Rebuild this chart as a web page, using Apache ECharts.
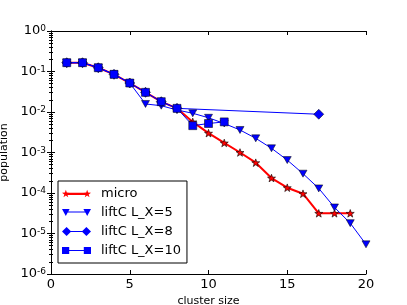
<!DOCTYPE html>
<html><head><meta charset="utf-8">
<script src="https://cdn.jsdelivr.net/npm/echarts@6/dist/echarts.min.js"></script>
<style>html,body{margin:0;padding:0;background:#fff}#c{width:407px;height:305px}</style>
</head><body><div id="c"></div>
<script>
// ---- data ----
const microX = [1,2,3,4,5,6,7,8,9,10,11,12,13,14,15,16,17,18,19];
const microY = [0.165,0.165,0.124,0.085,0.052,0.0306,0.018,0.0123,0.0057,0.0030,0.00172,0.00100,0.00056,0.000234,0.000135,0.000096,3.15e-5,3.15e-5,3.15e-5];
const lx5X = [1,2,3,4,5,6,7,8,9,10,11,12,13,14,15,16,17,18,19,20];
const lx5Y = [0.165,0.165,0.124,0.085,0.052,0.0158,0.0143,0.0112,0.0093,0.0072,0.0052,0.0036,0.00224,0.00127,0.00065,0.00030,0.00013,4.4e-5,1.8e-5,5.4e-6];
const lx8X = [1,2,3,4,5,6,7,8,17];
const lx8Y = [0.165,0.165,0.124,0.085,0.052,0.0306,0.018,0.0123,0.0088];
const lx10X = [1,2,3,4,5,6,7,8,9,10,11];
const lx10Y = [0.165,0.165,0.124,0.085,0.052,0.0306,0.018,0.0123,0.0046,0.0052,0.0057];
const seriesNames = ['micro','liftC L_X=5','liftC L_X=8','liftC L_X=10'];
const xTicks = {min:0, max:20, interval:5};
const yRange = {min:1e-6, max:1};

const FONT = 'DejaVu Sans';
function pairs(xs, ys){ return xs.map((x,i)=>[x, ys[i]]); }

// ---- marker shapes ----
function starPath(cx, cy, R, r){
  let d = '';
  for (let i=0;i<10;i++){
    const a = -Math.PI/2 + i*Math.PI/5;
    const rad = i%2===0 ? R : r;
    d += (i===0?'M':'L') + (cx+rad*Math.cos(a)).toFixed(1) + ' ' + (cy+rad*Math.sin(a)).toFixed(1) + ' ';
  }
  return d + 'Z ';
}
function triPath(cx, cy, r){ return `M${cx-r} ${cy-r*0.8} L${cx+r} ${cy-r*0.8} L${cx} ${cy+r} Z `; }
function diaPath(cx, cy, r){ return `M${cx} ${cy-r} L${cx+r} ${cy} L${cx} ${cy+r} L${cx-r} ${cy} Z `; }
function sqPath(cx, cy, h){ return `M${cx-h} ${cy-h} L${cx+h} ${cy-h} L${cx+h} ${cy+h} L${cx-h} ${cy+h} Z `; }
function rectPath(x1, x2, cy, h){ return `M${x1} ${cy-h} L${x2} ${cy-h} L${x2} ${cy+h} L${x1} ${cy+h} Z `; }

const W = 290, CY = 50;
function legendIcon(kind){
  let d = '';
  if (kind==='star'){ const R=40; d = starPath(R,CY,R,16)+rectPath(R,W-R,CY,10)+starPath(W-R,CY,R,16); }
  if (kind==='tri'){ const r=38; d = triPath(r,CY,r)+rectPath(r,W-r,CY,5)+triPath(W-r,CY,r); }
  if (kind==='dia'){ const r=46; d = diaPath(r,CY,r)+rectPath(r,W-r,CY,5)+diaPath(W-r,CY,r); }
  if (kind==='sq'){ const r=36; d = sqPath(r,CY,r)+rectPath(r,W-r,CY,5)+sqPath(W-r,CY,r); }
  return 'path://' + d;
}
const starSymbol = 'path://' + starPath(50,50,50,20);

const chart = echarts.init(document.getElementById('c'), null, {renderer:'canvas'});

function yLabel(v){
  const e = Math.round(Math.log10(v));
  return '{a|10}{b|' + e + '}';
}
const axisLineStyle = {show:true, lineStyle:{color:'#000', width:1}};
const tickStyle = {show:true, inside:true, length:4, lineStyle:{color:'#000', width:1}};
const minorStyle = {show:true, splitNumber:9, length:2, lineStyle:{color:'#000', width:1}};

const blueEdge = {borderColor:'#000', borderWidth:0.5};

chart.setOption({
  animation:false,
  backgroundColor:'#fff',
  textStyle:{fontFamily:FONT},
  grid:{left:51, right:41, top:31, bottom:31, containLabel:false, outerBoundsMode:'none'},
  xAxis:[
    {type:'value', min:xTicks.min, max:xTicks.max, interval:xTicks.interval, position:'bottom',
     axisLine:axisLineStyle, axisTick:tickStyle, splitLine:{show:false},
     axisLabel:{fontSize:13, color:'#000', margin:4, fontFamily:FONT},
     name:'cluster size', nameLocation:'middle', nameGap:14,
     nameTextStyle:{fontSize:11, color:'#000', fontFamily:FONT}},
    {type:'value', min:xTicks.min, max:xTicks.max, interval:xTicks.interval, position:'top',
     axisLine:axisLineStyle, axisTick:tickStyle, splitLine:{show:false}, axisLabel:{show:false}}
  ],
  yAxis:[
    {type:'log', logBase:10, min:yRange.min, max:yRange.max, splitNumber:6, position:'left',
     axisLine:axisLineStyle, axisTick:tickStyle, minorTick:minorStyle, splitLine:{show:false},
     axisLabel:{formatter:yLabel, margin:5, color:'#000',
       rich:{a:{fontSize:13, lineHeight:13, fontFamily:FONT, color:'#000', verticalAlign:'bottom'},
             b:{fontSize:9, lineHeight:9, fontFamily:FONT, color:'#000', verticalAlign:'top', padding:[0,0,7,0]}}},
     name:'population', nameLocation:'middle', nameGap:36,
     nameTextStyle:{fontSize:11, color:'#000', fontFamily:FONT}},
    {type:'log', logBase:10, min:yRange.min, max:yRange.max, splitNumber:6, position:'right',
     axisLine:axisLineStyle, axisTick:tickStyle, minorTick:minorStyle, splitLine:{show:false},
     axisLabel:{show:false}}
  ],
  legend:{
    left:58, top:181, orient:'vertical',
    padding:[6,6,6,4], itemWidth:29, itemHeight:14, itemGap:6,
    borderColor:'#000', borderWidth:1, borderRadius:0, backgroundColor:'#fff',
    itemStyle:{borderWidth:0},
    textStyle:{fontSize:13, color:'#000', fontFamily:FONT, padding:[0,0,0,5]},
    data:[
      {name:seriesNames[0], icon:legendIcon('star')},
      {name:seriesNames[1], icon:legendIcon('tri')},
      {name:seriesNames[2], icon:legendIcon('dia')},
      {name:seriesNames[3], icon:legendIcon('sq')}
    ]
  },
  series:[
    {name:seriesNames[0], type:'line', data:pairs(microX, microY),
     symbol:starSymbol, symbolKeepAspect:true, symbolSize:8,
     lineStyle:{color:'#ff0000', width:2}, itemStyle:{color:'#ff0000', borderColor:'#000', borderWidth:0.6}},
    {name:seriesNames[1], type:'line', data:pairs(lx5X, lx5Y),
     symbol:'triangle', symbolRotate:180, symbolSize:[8,7],
     lineStyle:{color:'#0000ff', width:1}, itemStyle:Object.assign({color:'#0000ff'}, blueEdge)},
    {name:seriesNames[2], type:'line', data:pairs(lx8X, lx8Y),
     symbol:'diamond', symbolSize:10,
     lineStyle:{color:'#0000ff', width:1}, itemStyle:Object.assign({color:'#0000ff'}, blueEdge)},
    {name:seriesNames[3], type:'line', data:pairs(lx10X, lx10Y),
     symbol:'rect', symbolSize:8,
     lineStyle:{color:'#0000ff', width:1}, itemStyle:Object.assign({color:'#0000ff'}, blueEdge)}
  ]
});
</script>
</body></html>
